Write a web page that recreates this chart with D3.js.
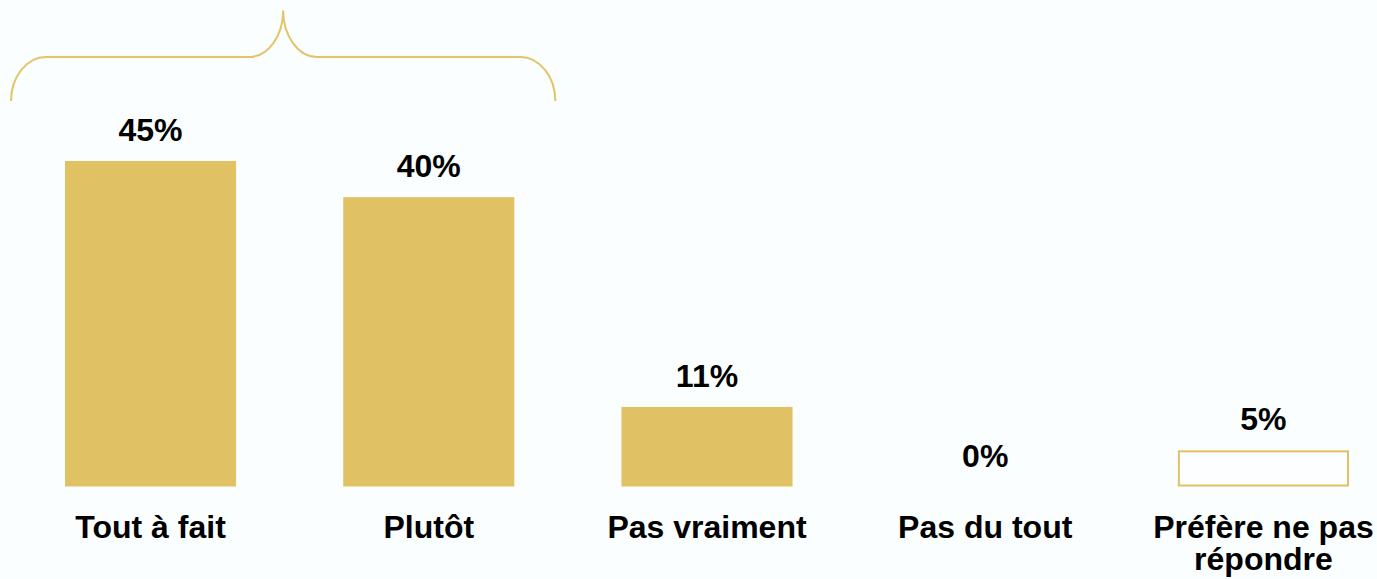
<!DOCTYPE html>
<html>
<head>
<meta charset="utf-8">
<script src="https://cdn.jsdelivr.net/npm/d3@7"></script>
<style>
  html, body { margin: 0; padding: 0; background: #fbfeff; }
  svg { display: block; }
  text { font-family: "Liberation Sans", Arial, sans-serif; font-weight: bold; fill: #000; }
</style>
</head>
<body>
<svg id="chart" width="1377" height="579"></svg>
<script>
const categories = ["Tout à fait", "Plutôt", "Pas vraiment", "Pas du tout", "Préfère ne pas répondre"];
const categoryLines = [["Tout à fait"], ["Plutôt"], ["Pas vraiment"], ["Pas du tout"], ["Préfère ne pas", "répondre"]];
const values = [45, 40, 11, 0, 5];
const valueLabels = ["45%", "40%", "11%", "0%", "5%"];
const outlined = [false, false, false, false, true];

const gold = "#e0c265";
const svg = d3.select("#chart");

const x = d3.scaleBand().domain(categories).range([65, 1349]).paddingInner(0.385).paddingOuter(0);
const y = d3.scaleLinear().domain([0, 45]).range([486.5, 161]);
const bw = x.bandwidth();

const data = categories.map((c, i) => ({ c, v: values[i], label: valueLabels[i], lines: categoryLines[i], outlined: outlined[i] }));

// bars
svg.selectAll("rect.bar").data(data.filter(d => d.v > 0)).join("rect")
  .attr("class", "bar")
  .attr("x", d => d.outlined ? x(d.c) + 1 : x(d.c))
  .attr("y", d => d.outlined ? y(d.v) + 1 : y(d.v))
  .attr("width", d => d.outlined ? bw - 2 : bw)
  .attr("height", d => d.outlined ? y(0) - y(d.v) - 2 : y(0) - y(d.v))
  .attr("fill", d => d.outlined ? "#fdfeff" : gold)
  .attr("stroke", d => d.outlined ? gold : "none")
  .attr("stroke-width", 2);

// value labels
svg.selectAll("text.val").data(data).join("text")
  .attr("class", "val")
  .attr("x", d => x(d.c) + bw / 2)
  .attr("y", d => y(d.v) - 20)
  .attr("text-anchor", "middle")
  .attr("font-size", 32)
  .text(d => d.label);

// category labels
const cat = svg.selectAll("text.cat").data(data).join("text")
  .attr("class", "cat")
  .attr("x", d => x(d.c) + bw / 2)
  .attr("y", 537.5)
  .attr("text-anchor", "middle")
  .attr("font-size", 32);
cat.selectAll("tspan").data(d => d.lines.map(l => ({ l, cx: x(d.c) + bw / 2 }))).join("tspan")
  .attr("x", t => t.cx)
  .attr("dy", (t, i) => i === 0 ? 0 : 32.5)
  .text(t => t.l);

// brace over first two categories
const bx0 = x(categories[0]) - 54;
const bx1 = x(categories[1]) + bw + 41;
const bmid = (bx0 + bx1) / 2;
const yEnd = 101, yLine = 57, yPeak = 10.5;
const rc = 35, rm = 34;
const p = d3.path();
p.moveTo(bx0, yEnd);
p.bezierCurveTo(bx0, yEnd - (yEnd - yLine) * 0.55, bx0 + rc * 0.45, yLine, bx0 + rc, yLine);
p.lineTo(bmid - rm, yLine);
p.bezierCurveTo(bmid - rm * 0.45, yLine, bmid, yLine - (yLine - yPeak) * 0.45, bmid, yPeak);
p.bezierCurveTo(bmid, yLine - (yLine - yPeak) * 0.45, bmid + rm * 0.45, yLine, bmid + rm, yLine);
p.lineTo(bx1 - rc, yLine);
p.bezierCurveTo(bx1 - rc * 0.45, yLine, bx1, yEnd - (yEnd - yLine) * 0.55, bx1, yEnd);
svg.append("path").attr("d", p.toString())
  .attr("fill", "none").attr("stroke", "#e3c569").attr("stroke-width", 2);
</script>
</body>
</html>
